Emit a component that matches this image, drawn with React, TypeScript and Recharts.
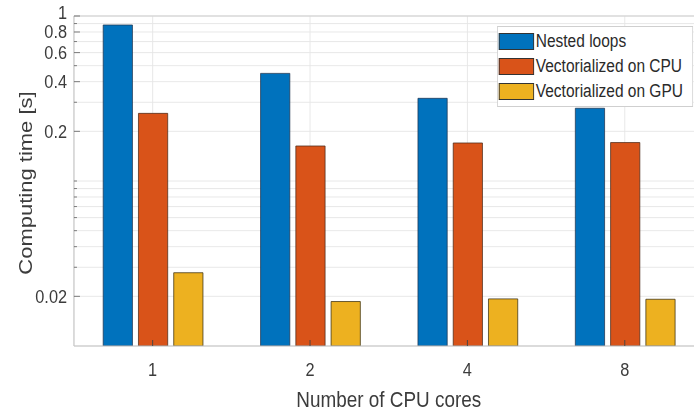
import React from "react";
import { BarChart, Bar, XAxis, YAxis, CartesianGrid, Legend, ReferenceLine } from "recharts";

const cores = ["1", "2", "4", "8"];
const nestedLoops = [0.882, 0.449, 0.317, 0.276];
const vecCPU = [0.257, 0.163, 0.17, 0.171];
const vecGPU = [0.0278, 0.0186, 0.0193, 0.0192];

const majorTicks = [0.02, 0.2, 0.4, 0.6, 0.8, 1];
const minorTicks = [0.03, 0.04, 0.05, 0.06, 0.07, 0.08, 0.09, 0.1, 0.3, 0.5, 0.7, 0.9];
const allTicks = [...majorTicks, ...minorTicks].sort((a, b) => a - b);

const seriesNames = ["Nested loops", "Vectorialized on CPU", "Vectorialized on GPU"];
const colors = ["#0072BD", "#D95319", "#EDB120"];

const data = cores.map((c, i) => ({
  cores: c,
  nested: nestedLoops[i],
  cpu: vecCPU[i],
  gpu: vecGPU[i],
}));

const FONT = '"Liberation Sans", Arial, Helvetica, sans-serif';
const TEXT = "#3c3c3c";

function YTick(props: any) {
  const { x, y, payload } = props;
  const v = payload.value;
  const major = majorTicks.includes(v);
  return (
    <g>
      <line x1={x} x2={x + (major ? 7 : 3.5)} y1={y} y2={y} stroke="#666" strokeWidth={0.9} />
      {major && (
        <text
          x={x - 8}
          y={y}
          dy={v === 1 ? -3 : 0}
          textAnchor="end"
          dominantBaseline="central"
          fontSize={19}
          fill={TEXT}
          fontFamily={FONT}
        >
          {String(v)}
        </text>
      )}
    </g>
  );
}

function XTick(props: any) {
  const { x, y, payload } = props;
  return (
    <g>
      <line x1={x} x2={x} y1={y} y2={y - 6} stroke="#444" strokeWidth={1} />
      <text x={x} y={y + 24} textAnchor="middle" dominantBaseline="central" fontSize={19} fill={TEXT} fontFamily={FONT}>
        {payload.value}
      </text>
    </g>
  );
}

function YLabel(props: any) {
  const vb = props.viewBox || { x: 0, y: 16, width: 86, height: 330 };
  const cx = 29;
  const cy = vb.y + vb.height / 2 + 2;
  return (
    <text
      x={cx}
      y={cy}
      transform={`rotate(-90, ${cx}, ${cy})`}
      textAnchor="middle"
      dominantBaseline="central"
      fontSize={22}
      fill={TEXT}
      fontFamily={FONT}
    >
      Computing time [s]
    </text>
  );
}

function XLabel(props: any) {
  const vb = props.viewBox || { x: 86, y: 346, width: 732, height: 68 };
  const cx = vb.x + vb.width / 2;
  return (
    <text x={cx} y={vb.y + 53} textAnchor="middle" dominantBaseline="central" fontSize={22} fill={TEXT} fontFamily={FONT}>
      Number of CPU cores
    </text>
  );
}

function LegendBox() {
  return (
    <div
      style={{
        width: 226,
        border: "1px solid #cfcfcf",
        background: "#fff",
        paddingTop: 2,
        paddingBottom: 2,
        fontFamily: FONT,
        boxSizing: "content-box",
      }}
    >
      {seriesNames.map((name, i) => (
        <div key={name} style={{ height: 25, display: "flex", alignItems: "center" }}>
          <div
            style={{
              width: 41,
              height: 17,
              marginLeft: 1,
              background: colors[i],
              border: "1px solid #333",
              boxSizing: "border-box",
            }}
          />
          <span style={{ marginLeft: 2, fontSize: 18, color: "#2a2a2a", lineHeight: "25px", whiteSpace: "nowrap" }}>
            {name}
          </span>
        </div>
      ))}
    </div>
  );
}

export default function App() {
  return (
    <div
      style={{
        position: "absolute",
        left: 0,
        top: 0,
        width: 694,
        height: 414,
        overflow: "hidden",
        background: "#fff",
      }}
    >
      <div style={{ width: 820, height: 414, transform: "scaleX(0.86)", transformOrigin: "0 0" }}>
        <BarChart
          width={820}
          height={414}
          data={data}
          margin={{ top: 16, right: 2, bottom: 0, left: 0 }}
          barSize={34}
          barGap={7}
        >
          <CartesianGrid stroke="#e6e6e6" strokeWidth={1} />
          <XAxis
            dataKey="cores"
            type="category"
            height={68}
            tickSize={0}
            tickMargin={0}
            tickLine={false}
            axisLine={{ stroke: "#c4c4c4", strokeWidth: 1.2 }}
            tick={<XTick />}
            interval={0}
            label={<XLabel />}
          />
          <YAxis
            scale="log"
            type="number"
            domain={[0.01, 1]}
            allowDataOverflow
            ticks={allTicks}
            interval={0}
            width={86}
            tickSize={0}
            tickMargin={0}
            tickLine={false}
            axisLine={{ stroke: "#c4c4c4", strokeWidth: 1.2 }}
            tick={<YTick />}
            label={<YLabel />}
          />
          <ReferenceLine y={1} stroke="#cfcfcf" strokeWidth={1.2} />
          <Bar dataKey="nested" name={seriesNames[0]} fill={colors[0]} stroke="#1f3550" strokeWidth={0.8} isAnimationActive={false} />
          <Bar dataKey="cpu" name={seriesNames[1]} fill={colors[1]} stroke="#4a2a1a" strokeWidth={0.8} isAnimationActive={false} />
          <Bar dataKey="gpu" name={seriesNames[2]} fill={colors[2]} stroke="#3a2f10" strokeWidth={0.8} isAnimationActive={false} />
          <Legend
            layout="horizontal"
            verticalAlign="middle"
            align="center"
            content={<LegendBox />}
            wrapperStyle={{ position: "absolute", left: 578, top: 26, width: 228, height: 80, margin: 0, padding: 0 }}
          />
        </BarChart>
      </div>
    </div>
  );
}
